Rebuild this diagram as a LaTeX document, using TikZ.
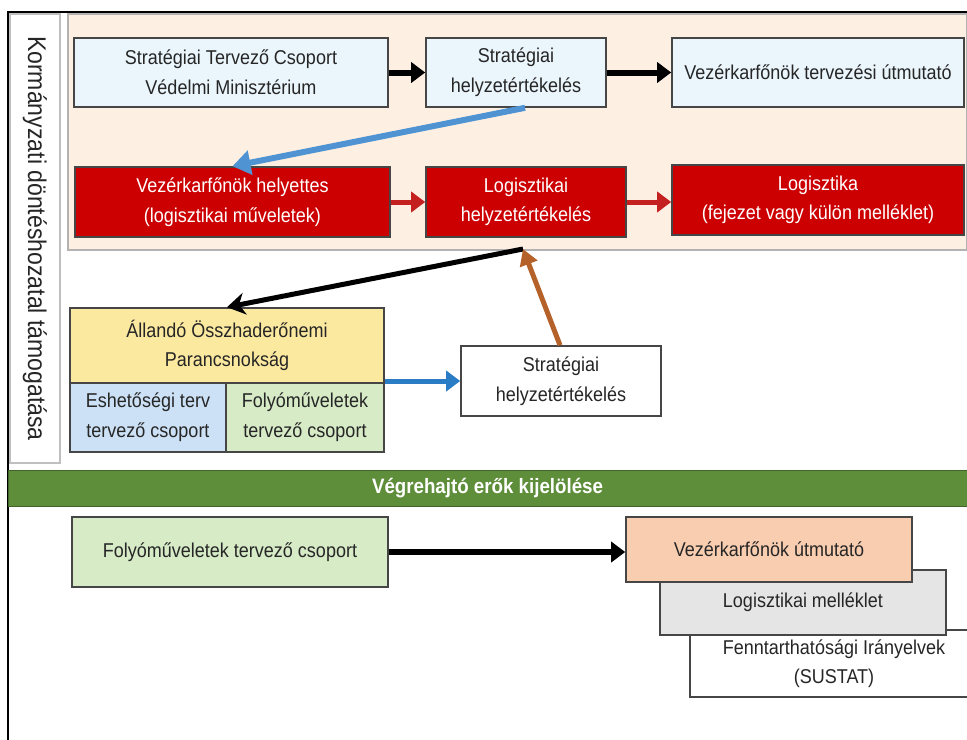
\documentclass[tikz,border=0pt]{standalone}
\usepackage{fontspec}
\setmainfont[FakeStretch=0.9]{Liberation Sans}
\usetikzlibrary{arrows.meta,shadows}

\definecolor{panelpeach}{HTML}{FDF0E3}
\definecolor{paleblue}{HTML}{EAF5FC}
\definecolor{boxred}{HTML}{CC0000}
\definecolor{arrred}{HTML}{C42020}
\definecolor{paleyellow}{HTML}{FCE9A0}
\definecolor{cellblue}{HTML}{CCE1F5}
\definecolor{cellgreen}{HTML}{D6EBC6}
\definecolor{bandgreen}{HTML}{5E8E3A}
\definecolor{paleorange}{HTML}{F9CDB0}
\definecolor{palegray}{HTML}{E5E5E5}
\definecolor{arrblue}{HTML}{4F93D2}
\definecolor{midblue}{HTML}{2A7CC4}
\definecolor{arrbrown}{HTML}{B5622A}

\begin{document}
\begin{tikzpicture}[x=0.5pt,y=-0.5pt,
  box/.style={draw=gray!55!black, line width=0.8pt, align=center, inner sep=0pt,
    text=black!85, font=\fontsize{10}{14.8}\selectfont,
    drop shadow={shadow xshift=0.7pt,shadow yshift=-0.7pt,opacity=0.3}},
  bluebox/.style={box, fill=paleblue},
  redbox/.style={box, fill=boxred, text=white},
  blkarrow/.style={line width=3pt, -{Triangle[length=7pt,width=10pt]}},
  redarrow/.style={line width=2.5pt, arrred, -{Triangle[length=7pt,width=10pt]}}]
\useasboundingbox (0,0) rectangle (967,739);
\clip (0,0) rectangle (967,739);

% frame and side label
\draw[line width=1pt] (8,750) |- (980,12);
\node[box, fill=white, draw=gray!50, minimum width=224.5pt, minimum height=25pt,
  rotate=-90, font=\fontsize{12.8}{15}\selectfont] (kdt) at (35,238.5)
  {Kormányzati döntéshozatal támogatása};
\node[draw=gray!60, fill=panelpeach, line width=0.8pt, minimum width=449.5pt,
  minimum height=118pt, inner sep=0pt] (pnl) at (517.5,132) {};

% upper rows
\node[bluebox, minimum width=157pt, minimum height=34.5pt] (stc) at (231,72.5)
  {Stratégiai Tervező Csoport\\Védelmi Minisztérium};
\node[bluebox, minimum width=90pt, minimum height=34.5pt] (shz) at (516,72.5)
  {Stratégiai\\helyzetértékelés};
\node[bluebox, minimum width=146pt, minimum height=34.5pt] (vtu) at (818,72.5)
  {Vezérkarfőnök tervezési útmutató};
\node[redbox, minimum width=157.5pt, minimum height=35pt] (vkh) at (232.5,202)
  {Vezérkarfőnök helyettes\\(logisztikai műveletek)};
\node[redbox, minimum width=100pt, minimum height=35pt] (lhz) at (526,202)
  {Logisztikai\\helyzetértékelés};
\node[redbox, minimum width=146pt, minimum height=35pt] (lgf) at (818,200)
  {Logisztika\\(fejezet vagy külön melléklet)};

\draw[blkarrow] (stc) -- (shz);
\draw[blkarrow] (shz) -- (vtu);
\draw[redarrow] (vkh) -- (lhz);
\draw[redarrow] (lhz.east) -- (lhz.east -| lgf.west);
\draw[line width=3pt, arrblue, -{Triangle[length=9pt,width=12pt]}]
  ([xshift=4.5pt]shz.south) -- (vkh.north);

% middle
\node[box, fill=paleyellow, minimum width=157pt, minimum height=37.5pt] (aop) at (227,345.5)
  {Állandó Összhaderőnemi\\Parancsnokság};
\node[box, fill=cellblue, minimum width=78pt, minimum height=34.5pt] (etc) at (148,417.5)
  {Eshetőségi terv\\tervező csoport};
\node[box, fill=cellgreen, minimum width=79pt, minimum height=34.5pt] (ftc) at (305,417.5)
  {Folyóműveletek\\tervező csoport};
\node[box, fill=white, minimum width=100pt, minimum height=35pt] (shz2) at (561,381)
  {Stratégiai\\helyzetértékelés};
\coordinate (jn) at (523,249);

\draw[line width=2.5pt, -{Stealth[length=9pt,width=11pt]}] (jn) -- (aop.north);
\draw[line width=2.5pt, arrbrown, -{Triangle[length=8pt,width=9pt]}] ([xshift=-0.5pt]shz2.north) -- (jn);
\draw[line width=2.5pt, midblue, -{Triangle[length=7pt,width=10pt]}] (shz2.west -| aop.east) -- (shz2.west);

% band
\node[fill=bandgreen, draw=bandgreen!70!black, minimum width=479.5pt, minimum height=18pt,
  inner sep=0pt, text=white, font=\fontsize{10.4}{12}\selectfont\bfseries] (vek) at (487.5,488)
  {Végrehajtó erők kijelölése};

% lower part
\node[box, fill=cellgreen, minimum width=158pt, minimum height=35pt] (ftc2) at (230,552)
  {Folyóműveletek tervező csoport};
\node[box, fill=white, minimum width=144pt, minimum height=33.5pt] (fir) at (834,663.5)
  {Fenntarthatósági Irányelvek\\(SUSTAT)};
\node[box, fill=palegray, minimum width=143pt, minimum height=32.5pt] (lmk) at (803,602.5)
  {Logisztikai melléklet};
\node[box, fill=paleorange, minimum width=143pt, minimum height=32.5pt] (vku) at (769,549.5)
  {Vezérkarfőnök útmutató};

\draw[blkarrow] (ftc2.east) -- (ftc2.east -| vku.west);
\end{tikzpicture}
\end{document}
